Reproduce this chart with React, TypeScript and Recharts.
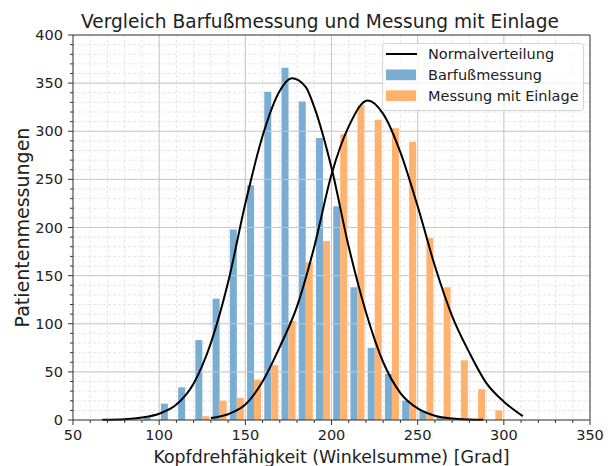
import React from "react";
import {
  ComposedChart,
  Bar,
  Line,
  XAxis,
  YAxis,
  CartesianGrid,
  ReferenceLine,
} from "recharts";

// Histogramm-Klassen (linke Kante), Breite 10 Grad
const binStart = [
  90, 100, 110, 120, 130, 140, 150, 160, 170, 180, 190, 200, 210, 220, 230,
  240, 250, 260, 270, 280, 290,
];
const binWidth = 10;
const barfuss = [
  3, 17, 34, 83, 126, 198, 244, 341, 366, 331, 293, 222, 138, 75, 48, 20, 9,
  3, null, null, null,
];
const einlage = [
  null, null, null, 4, 20, 23, 42, 57, 103, 164, 186, 297, 327, 312, 303, 289,
  189, 138, 62, 32, 10,
];

// Normalverteilungskurven
const normBarfussX = [
  67, 80, 90, 100, 110, 120, 130, 140, 150, 160, 170, 177, 185, 190, 200, 210,
  220, 230, 240, 250, 260, 270, 280, 288,
];
const normBarfussY = [
  0.2, 0.8, 2.5, 6.5, 16, 38, 80, 143, 225, 295, 342, 355, 346, 325, 262, 180,
  112, 60, 28, 12, 4.5, 1.5, 0.5, 0.2,
];
const normEinlageX = [
  130, 140, 150, 160, 170, 180, 190, 200, 210, 221, 230, 240, 250, 260, 270,
  280, 290, 300, 311,
];
const normEinlageY = [
  2, 6, 16, 40, 76, 118, 180, 255, 305, 332, 318, 278, 222, 160, 108, 70, 38,
  19, 4,
];

const xMajor = [100, 150, 200, 250, 300];
const yMajor = [50, 100, 150, 200, 250, 300, 350];
const xTicks = Array.from({ length: 31 }, (_, i) => 50 + i * 10);
const yTicks = Array.from({ length: 41 }, (_, i) => i * 10);

const FONT = "DejaVu Sans";
const BLUE = "#79add2";
const ORANGE = "#ffb26e";
const SPINE = "#333";
const GRID = "#c8c8c8";

const barData = binStart.map((b, i) => ({
  x: b + binWidth / 2,
  barfuss: barfuss[i],
  einlage: einlage[i],
}));
const curveBarfuss = normBarfussX.map((x, i) => ({ x, y: normBarfussY[i] }));
const curveEinlage = normEinlageX.map((x, i) => ({ x, y: normEinlageY[i] }));

function XTick({ x, y, payload }: any) {
  const major = payload.value % 50 === 0;
  return (
    <g>
      <line x1={x} x2={x} y1={y} y2={y + (major ? 5 : 3)} stroke={SPINE} />
      {major && (
        <text
          x={x}
          y={y + 20}
          textAnchor="middle"
          fontFamily={FONT}
          fontSize={14.5}
          fill="#222"
        >
          {payload.value}
        </text>
      )}
    </g>
  );
}

function YTick({ x, y, payload }: any) {
  const major = payload.value % 50 === 0;
  return (
    <g>
      <line x1={x - (major ? 5 : 3)} x2={x} y1={y} y2={y} stroke={SPINE} />
      {major && (
        <text
          x={x - 10}
          y={y}
          dy="0.35em"
          textAnchor="end"
          fontFamily={FONT}
          fontSize={14.5}
          fill="#222"
        >
          {payload.value}
        </text>
      )}
    </g>
  );
}

const legendItems = [
  { name: "Normalverteilung", kind: "line", color: "#000" },
  { name: "Barfußmessung", kind: "patch", color: BLUE },
  { name: "Messung mit Einlage", kind: "patch", color: ORANGE },
];

export default function App() {
  return (
    <div style={{ position: "relative", width: 603, height: 458 }}>
      <ComposedChart
        width={603}
        height={458}
        data={barData}
        margin={{ top: 27, right: 21, left: 0, bottom: 0 }}
        barGap={0}
        barCategoryGap="10%"
      >
        <CartesianGrid stroke="#e6e6e6" strokeDasharray="3 2" />
        {xMajor.map((v) => (
          <ReferenceLine key={`gx${v}`} x={v} stroke={GRID} />
        ))}
        {yMajor.map((v) => (
          <ReferenceLine key={`gy${v}`} y={v} stroke={GRID} />
        ))}
        <XAxis
          dataKey="x"
          type="number"
          domain={[50, 350]}
          ticks={xTicks}
          interval={0}
          allowDataOverflow
          height={46}
          tickSize={0}
          tickMargin={0}
          tickLine={false}
          tick={<XTick />}
          axisLine={{ stroke: SPINE }}
          label={({ viewBox }: any) => (
            <text
              x={viewBox.x + viewBox.width / 2}
              y={viewBox.y + 43}
              textAnchor="middle"
              fontFamily={FONT}
              fontSize={17.4}
              fill="#222"
            >
              Kopfdrehfähigkeit (Winkelsumme) [Grad]
            </text>
          )}
        />
        <XAxis
          xAxisId="c"
          dataKey="x"
          type="number"
          domain={[50, 350]}
          allowDataOverflow
          hide
        />
        <YAxis
          type="number"
          domain={[0, 400]}
          ticks={yTicks}
          interval={0}
          width={65}
          tickSize={0}
          tickMargin={0}
          tickLine={false}
          tick={<YTick />}
          axisLine={{ stroke: SPINE }}
          label={({ viewBox }: any) => {
            const cx = 21;
            const cy = viewBox.y + viewBox.height / 2;
            return (
              <text
                x={cx}
                y={cy}
                transform={`rotate(-90 ${cx} ${cy})`}
                textAnchor="middle"
                fontFamily={FONT}
                fontSize={19}
                fill="#222"
              >
                Patientenmessungen
              </text>
            );
          }}
        />
        <Bar dataKey="barfuss" fill={BLUE} isAnimationActive={false} />
        <Bar dataKey="einlage" fill={ORANGE} isAnimationActive={false} />
        <Line
          xAxisId="c"
          data={curveBarfuss}
          dataKey="y"
          type="monotone"
          stroke="#000"
          strokeWidth={2}
          dot={false}
          activeDot={false}
          isAnimationActive={false}
        />
        <Line
          xAxisId="c"
          data={curveEinlage}
          dataKey="y"
          type="monotone"
          stroke="#000"
          strokeWidth={2}
          dot={false}
          activeDot={false}
          isAnimationActive={false}
        />
        <ReferenceLine y={400} stroke={SPINE} />
        <ReferenceLine x={350} stroke={SPINE} />
      </ComposedChart>
      <svg
        width={603}
        height={30}
        style={{ position: "absolute", left: 0, top: 0, pointerEvents: "none" }}
      >
        <text
          x={312}
          y={20}
          textAnchor="middle"
          fontFamily={FONT}
          fontSize={18.6}
          fill="#222"
        >
          Vergleich Barfußmessung und Messung mit Einlage
        </text>
      </svg>
      <svg
        width={203}
        height={69}
        style={{ position: "absolute", left: 374, top: 35, pointerEvents: "none" }}
      >
        <rect
          x={0.5}
          y={0.5}
          width={201}
          height={67}
          rx={3}
          fill="rgba(255,255,255,0.8)"
          stroke="#d5d5d5"
        />
        {legendItems.map((item, i) => {
          const cy = 11 + i * 20.8;
          return (
            <g key={item.name}>
              {item.kind === "line" ? (
                <line x1={4} x2={35} y1={cy} y2={cy} stroke={item.color} strokeWidth={2} />
              ) : (
                <rect x={4} y={cy - 5.3} width={30} height={10.7} fill={item.color} />
              )}
              <text
                x={46}
                y={cy}
                dy="0.35em"
                fontFamily={FONT}
                fontSize={14.5}
                fill="#222"
              >
                {item.name}
              </text>
            </g>
          );
        })}
      </svg>
    </div>
  );
}
